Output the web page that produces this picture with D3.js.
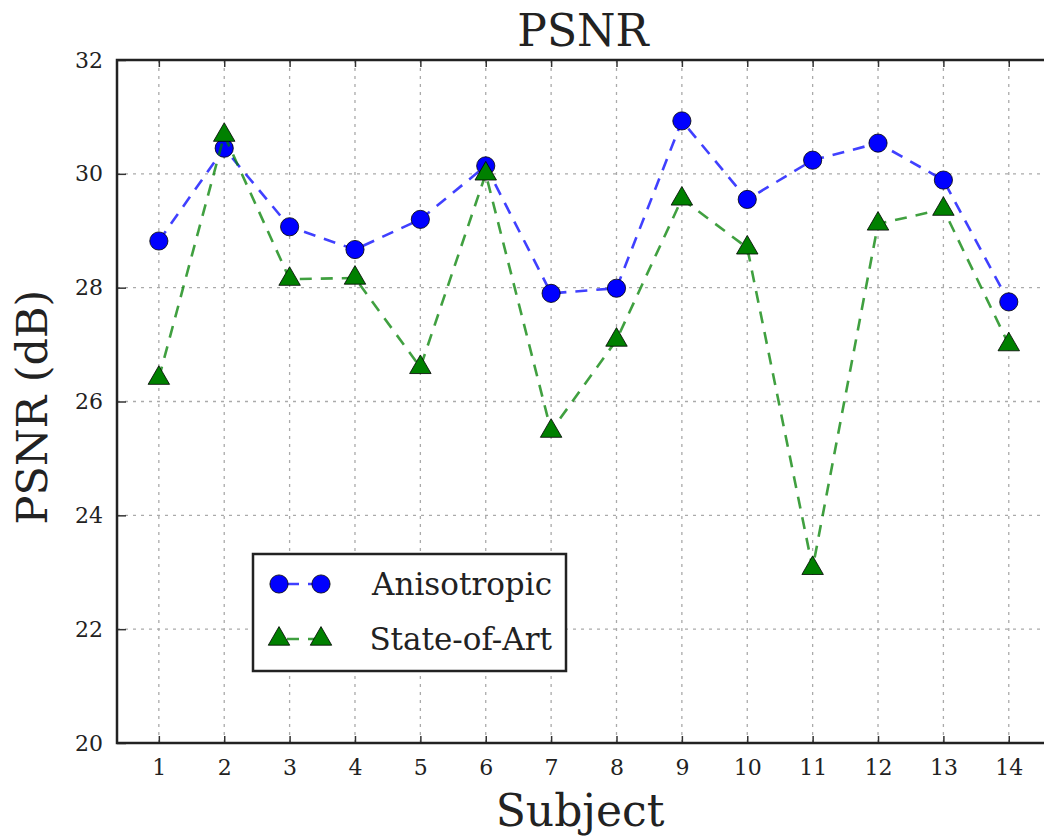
<!DOCTYPE html>
<html>
<head>
<meta charset="utf-8">
<script src="https://cdn.jsdelivr.net/npm/d3@7"></script>
<style>
body { margin: 0; background: #fff; }
svg { display: block; }
text { font-family: "DejaVu Serif", serif; fill: #222; }
</style>
</head>
<body>
<svg width="1044" height="839"></svg>
<script>
// chart data
var subjects = [1,2,3,4,5,6,7,8,9,10,11,12,13,14];
var anisotropic = [28.82, 30.45, 29.07, 28.67, 29.2, 30.14, 27.9, 27.99, 30.93, 29.55, 30.24, 30.54, 29.89, 27.75];
var stateOfArt = [26.41, 30.68, 28.15, 28.17, 26.6, 30.0, 25.48, 27.08, 29.56, 28.7, 23.07, 29.12, 29.38, 27.0];
var yTicks = [20, 22, 24, 26, 28, 30, 32];
var seriesNames = ["Anisotropic", "State-of-Art"];

var svg = d3.select("svg");
var pLeft = 117, pRight = 1048, pTop = 60, pBottom = 743;

var x = d3.scaleLinear().domain([0.36, 14.6]).range([pLeft, pRight]);
var y = d3.scaleLinear().domain([20, 32]).range([pBottom, pTop]);

// grid
var grid = svg.append("g");
grid.selectAll("line.gx").data(subjects).enter().append("line")
    .attr("x1", function(d){ return x(d); })
    .attr("x2", function(d){ return x(d); })
    .attr("y1", pTop).attr("y2", pBottom)
    .attr("stroke", "#aaa").attr("stroke-width", 1.3)
    .attr("stroke-dasharray", "3,5");
grid.selectAll("line.gy").data(yTicks).enter().append("line")
    .attr("y1", function(d){ return y(d); })
    .attr("y2", function(d){ return y(d); })
    .attr("x1", pLeft).attr("x2", pRight)
    .attr("stroke", "#aaa").attr("stroke-width", 1.3)
    .attr("stroke-dasharray", "3,5");

// axes (ticks inward)
var xAxis = svg.append("g").attr("transform", "translate(0," + pBottom + ")")
    .call(d3.axisBottom(x).tickValues(subjects).tickSize(-7).tickPadding(16).tickFormat(d3.format("d")));
var xTop = svg.append("g").attr("transform", "translate(0," + pTop + ")")
    .call(d3.axisTop(x).tickValues(subjects).tickSize(-7).tickFormat(""));
var yAxis = svg.append("g").attr("transform", "translate(" + pLeft + ",0)")
    .call(d3.axisLeft(y).tickValues(yTicks).tickSize(-9).tickPadding(14).tickFormat(d3.format("d")));
[xAxis, xTop, yAxis].forEach(function(a){
    a.select(".domain").remove();
    a.selectAll(".tick line").attr("stroke", "#333").attr("stroke-width", 1.5);
    a.selectAll(".tick text").attr("font-family", "DejaVu Serif").attr("font-size", 22).attr("fill", "#333");
});

svg.append("rect").attr("x", pLeft).attr("y", pTop)
    .attr("width", pRight - pLeft).attr("height", pBottom - pTop)
    .attr("fill", "none").attr("stroke", "#222").attr("stroke-width", 2.5);

// series
function drawSeries(vals, color, shape){
    var line = d3.line().x(function(d, i){ return x(subjects[i]); }).y(function(d){ return y(d); });
    svg.append("path").datum(vals).attr("d", line)
        .attr("fill", "none").attr("stroke", color).attr("stroke-width", 2.6)
        .attr("stroke-dasharray", "12,9").attr("opacity", 0.75);
    svg.selectAll(null).data(vals).enter().append("path")
        .attr("d", d3.symbol().type(shape).size(shape === d3.symbolCircle ? 260 : 200))
        .attr("transform", function(d, i){ return "translate(" + x(subjects[i]) + "," + y(d) + ")"; })
        .attr("fill", color).attr("stroke", "#000").attr("stroke-width", 0.8);
}
drawSeries(anisotropic, "#0000ff", d3.symbolCircle);
drawSeries(stateOfArt, "#008000", d3.symbolTriangle);

// legend
var lg = svg.append("g").attr("transform", "translate(253,554)");
lg.append("rect").attr("width", 313).attr("height", 117)
    .attr("fill", "#fff").attr("stroke", "#222").attr("stroke-width", 2.5);
var colors = ["#0000ff", "#008000"];
var shapes = [d3.symbolCircle, d3.symbolTriangle];
seriesNames.forEach(function(name, i){
    var ly = 30 + i * 55;
    lg.append("line").attr("x1", 26).attr("x2", 68).attr("y1", ly).attr("y2", ly)
        .attr("stroke", colors[i]).attr("stroke-width", 2.6).attr("stroke-dasharray", "12,9")
        .attr("stroke-dashoffset", -8).attr("opacity", 0.75);
    [26, 68].forEach(function(mx){
        lg.append("path").attr("d", d3.symbol().type(shapes[i]).size(i === 0 ? 260 : 200))
            .attr("transform", "translate(" + mx + "," + ly + ")")
            .attr("fill", colors[i]).attr("stroke", "#000").attr("stroke-width", 0.8);
    });
    lg.append("text").attr("x", 299).attr("y", ly + 11)
        .attr("text-anchor", "end").attr("font-size", 31).text(name);
});

// titles
svg.append("text").attr("x", 583).attr("y", 46).attr("text-anchor", "middle")
    .attr("font-size", 44).text("PSNR");
svg.append("text").attr("x", 580).attr("y", 826).attr("text-anchor", "middle")
    .attr("font-size", 44).text("Subject");
svg.append("text").attr("transform", "translate(47,407) rotate(-90)").attr("text-anchor", "middle")
    .attr("font-size", 43).text("PSNR (dB)");
</script>
</body>
</html>
